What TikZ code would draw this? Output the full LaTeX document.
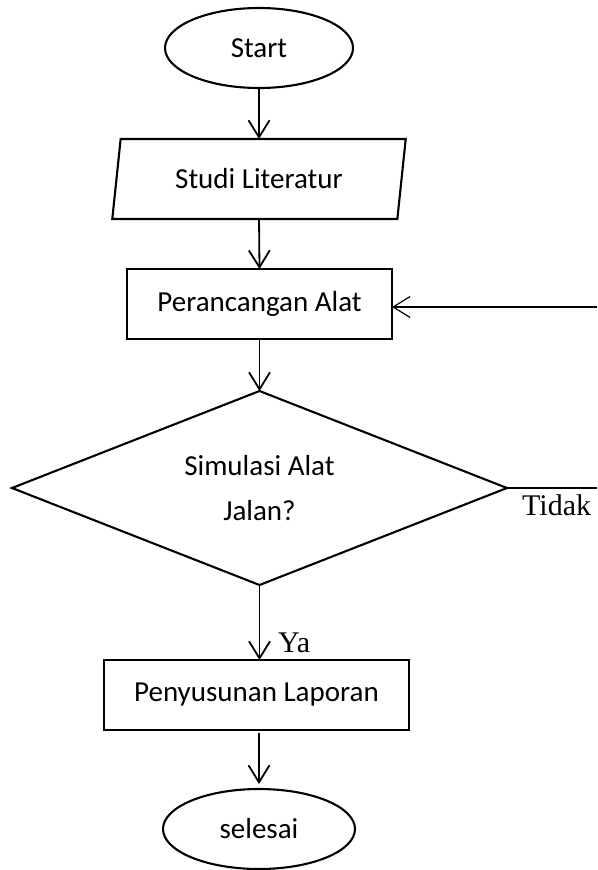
\documentclass[tikz,border=0pt]{standalone}
\usepackage{fontspec}
\setmainfont{Carlito}
\newfontfamily\serifb{Liberation Serif}
\usetikzlibrary{shapes.geometric,arrows.meta}
\begin{document}
\begin{tikzpicture}[x=1pt,y=-1pt,
  box/.style={draw,line width=2.1pt,inner sep=0pt,outer sep=0pt,font=\fontsize{29}{45}\selectfont,align=center},
  term/.style={box,ellipse},
  io/.style={box,trapezium,trapezium left angle=76,trapezium right angle=104,trapezium stretches=true},
  proc/.style={box,rectangle},
  dec/.style={box,diamond,aspect=2.55},
  arr/.style={line width=1.8pt,-{Straight Barb[length=17pt,width=21pt,line width=1.8pt]}},
  thinline/.style={line width=1.2pt},
  thinarr/.style={line width=1.2pt,-{Straight Barb[length=17pt,width=21pt,line width=1.2pt]}},
  lbl/.style={font=\serifb\fontsize{30}{36}\selectfont,inner sep=0pt}]
\useasboundingbox (0,0) rectangle (597,870);
\node[term,minimum width=188pt,minimum height=80pt] (start) at (259,48) {Start};
\node[io,minimum width=294pt,minimum height=80pt] (studi) at (259,179) {Studi Literatur};
\node[proc,minimum width=265pt,minimum height=70pt] (rancang) at (259.5,304) {Perancangan Alat};
\node[dec,minimum width=495pt,minimum height=194pt] (sim) at (259.5,488) {Simulasi Alat\\Jalan?};
\node[proc,minimum width=305pt,minimum height=70pt] (lapor) at (256.5,695) {Penyusunan Laporan};
\node[term,minimum width=192pt,minimum height=80pt] (selesai) at (259,829) {selesai};
\node[lbl,anchor=base west] (ya) at (278,652) {Ya};
\node[lbl,anchor=base west] (tidak) at (522,515) {Tidak};
\coordinate (fbA) at (597,488);
\coordinate (fbB) at (597,307);
\draw[arr] (start.south) -- (studi.north);
\draw[arr] (studi.south) -- (rancang.north);
\draw[arr] (rancang.south) -- (sim.north);
\draw[arr] (sim.south) -- (sim.south |- lapor.north);
\draw[arr,shorten <=3pt,shorten >=5pt] (lapor.south -| selesai.north) -- (selesai.north);
\draw[thinline] (sim.east) -- (fbA);
\draw[thinarr] (fbB) -- (fbB -| rancang.east);
\end{tikzpicture}
\end{document}
